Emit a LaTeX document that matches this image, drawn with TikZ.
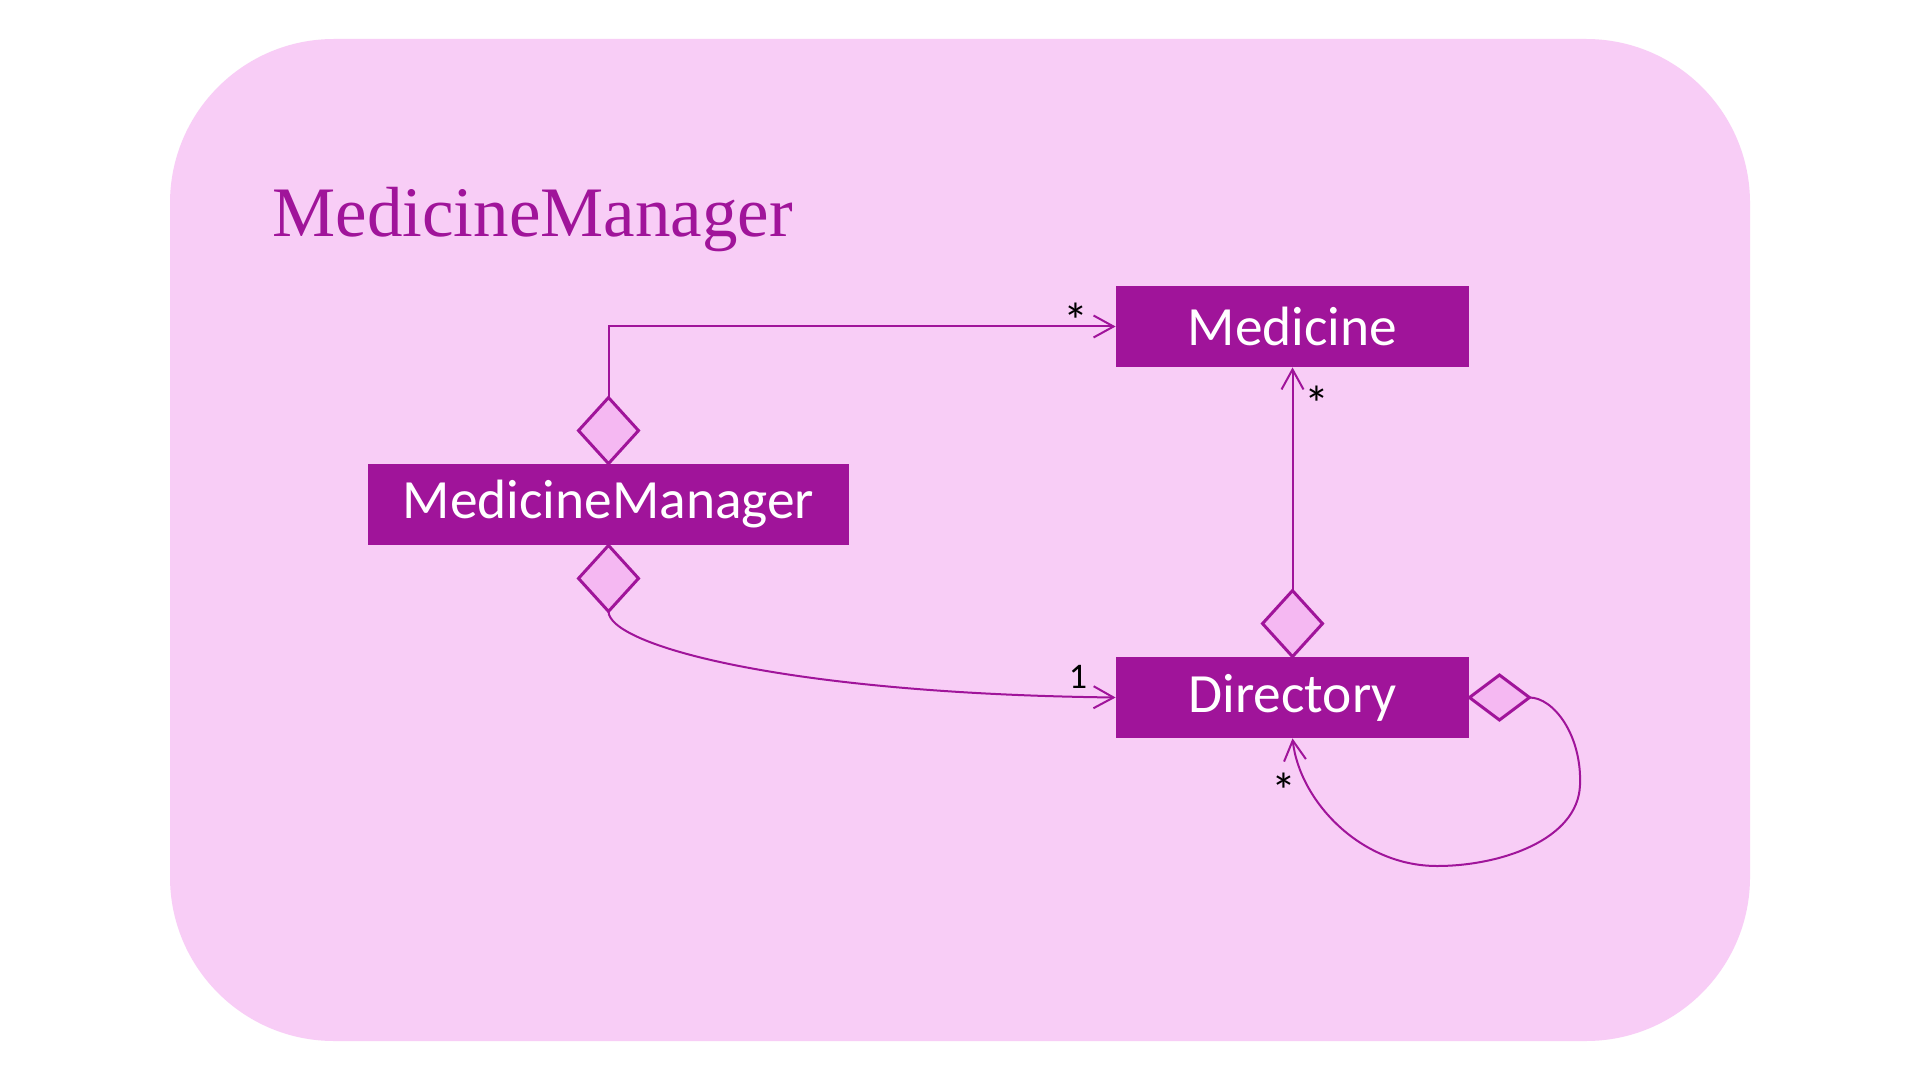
\documentclass[tikz,border=0pt]{standalone}
\usepackage{fontspec}
\setmainfont{Carlito}
\newfontfamily\titlefont{Liberation Serif}
\usetikzlibrary{arrows.meta,shapes.geometric,calc}
\definecolor{umlpurple}{RGB}{160,20,154}
\definecolor{umlbg}{RGB}{248,205,246}
\definecolor{umldia}{RGB}{245,184,242}
\tikzset{
  classbox/.style={draw=none, fill=umlpurple, text=white, inner sep=0pt,
    minimum height=40.5pt, font=\fontsize{27.7}{32}\selectfont},
  vdia/.style={shape=diamond, draw=umlpurple, fill=umldia, line width=1.5pt,
    inner sep=0pt, outer sep=0pt, minimum width=30pt, minimum height=33pt},
  hdia/.style={shape=diamond, draw=umlpurple, fill=umldia, line width=1.5pt,
    inner sep=0pt, outer sep=0pt, minimum width=30pt, minimum height=22.5pt},
  conn/.style={draw=umlpurple, line width=1pt,
    -{Straight Barb[length=10pt,width=11pt,line width=1pt]}},
  lbl/.style={inner sep=0pt, anchor=base, text=black, font=\fontsize{18}{21}\selectfont},
  starlbl/.style={lbl, font=\fontsize{25}{28}\selectfont},
}
\begin{document}
\begin{tikzpicture}[x=0.5pt,y=-0.5pt]
\useasboundingbox (0,0) rectangle (1920,1080);
\fill[white] (0,0) rectangle (1920,1080);
\fill[umlbg, rounded corners=82pt] (170,39) rectangle (1750,1041);
\node[anchor=base west, inner sep=0pt, text=umlpurple, font=\titlefont\fontsize{35.5}{40}\selectfont] (title) at (272,237) {MedicineManager};

\node[classbox, minimum width=176.5pt] (med) at (1292.5,326.5) {Medicine};
\node[classbox, minimum width=240.5pt] (mm) at (608.5,504.5) {MedicineManager};
\node[classbox, minimum width=176.5pt] (dir) at (1292.5,697.5) {Directory};

\node[vdia, anchor=south] (d1) at (mm.north) {};
\node[vdia, anchor=north] (d2) at (mm.south) {};
\node[vdia, anchor=south] (d3) at (dir.north) {};
\node[hdia, anchor=west] (d4) at (dir.east) {};

\coordinate (loopa) at (1580,785);
\coordinate (loopb) at (1437,866);

\draw[conn] (d1.north) |- (med.west);
\draw[conn] (d3.north) -- (med.south);
\draw[conn] (d2.south) .. controls +(0,33) and +(-336,-4) .. (dir.west);
\draw[conn] (d4.east) .. controls +(24,0) and +(2,-50) .. (loopa)
  .. controls +(-2,55) and +(63,0) .. (loopb)
  .. controls +(-77,0) and +(7,62) .. (dir.south);

\node[starlbl] (l1) at ($(med.west)+(-39.5,12)$) {*};
\node[starlbl] (l2) at ($(med.south)+(24,54)$) {*};
\node[lbl] (l3) at ($(dir.west)+(-37.5,-9.5)$) {1};
\node[starlbl] (l4) at ($(dir.south)+(-9,70)$) {*};
\end{tikzpicture}
\end{document}
